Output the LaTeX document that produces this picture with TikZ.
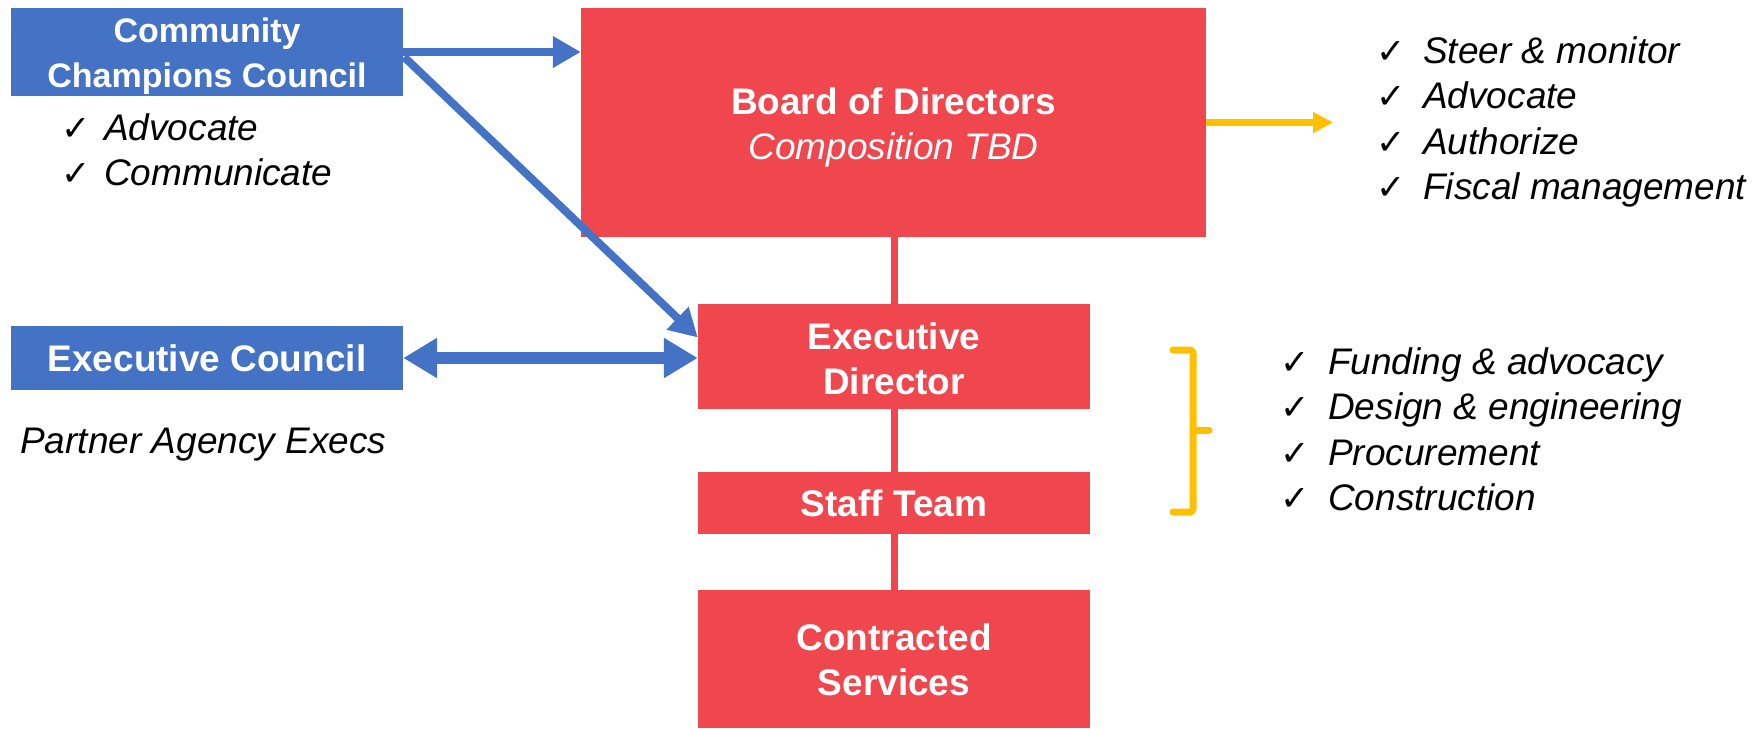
\documentclass[tikz,border=0pt]{standalone}
\usepackage{fontspec}
\setmainfont{Liberation Sans}
\newfontfamily\symfont{DejaVu Sans}
\usetikzlibrary{arrows.meta,calc}
\definecolor{cblue}{HTML}{4472C4}
\definecolor{cred}{HTML}{F0464E}
\definecolor{cyel}{HTML}{FFC000}
\begin{document}
\begin{tikzpicture}[x=1pt,y=-1pt,
  bluebox/.style={fill=cblue, text=white, font=\fontsize{37}{45}\selectfont\bfseries, align=center, inner sep=0pt},
  redbox/.style={fill=cred, text=white, font=\fontsize{37}{45}\selectfont\bfseries, align=center, inner sep=0pt, minimum width=392pt},
  boxtext/.style={text=white, font=\fontsize{37}{45}\selectfont\bfseries, align=center, inner sep=0pt},
  item/.style={anchor=base west, inner sep=0pt, font=\fontsize{37}{45}\selectfont\itshape},
  tick/.style={anchor=base west, inner sep=0pt, font=\symfont\fontsize{35}{35}\selectfont},
  barrow/.style={draw=cblue, line width=8pt, -{Triangle[length=28pt,width=30pt]}},
  darrow/.style={draw=cblue, line width=12pt, {Triangle[length=34pt,width=38pt]}-{Triangle[length=34pt,width=38pt]}},
  yarrow/.style={draw=cyel, line width=7pt, -{Triangle[length=20pt,width=20pt]}},
  rline/.style={draw=cred, line width=7pt},
  brace/.style={draw=cyel, line width=7pt, line cap=round, line join=round, rounded corners=3pt},
]
\useasboundingbox (0,0) rectangle (1758,728);

% boxes
\node[bluebox, minimum width=392pt, minimum height=88pt] (cc) at (207,52) {};
\node[boxtext, font=\fontsize{34}{45}\selectfont\bfseries] (cct) at (207,56) {Community\\Champions Council};
\node[bluebox, minimum width=392pt, minimum height=64pt] (ec) at (207,358) {Executive Council};
\node[redbox, minimum width=625pt, minimum height=229pt] (bod) at (893.5,122.5) {};
\node[boxtext] (bodt) at (893.5,127.5) {Board of Directors\\{\mdseries\itshape Composition TBD}};
\node[redbox, minimum height=105pt] (ed) at (894,356.5) {};
\node[boxtext] (edt) at (894,359) {Executive\\Director};
\node[redbox, minimum height=62pt] (st) at (894,503) {Staff Team};
\node[redbox, minimum height=138pt] (cs) at (894,659) {};
\node[boxtext] (cst) at (894,660) {Contracted\\Services};

% red connectors
\draw[rline] (ed.north) -- (ed.north |- bod.south);
\draw[rline] (ed.south) -- (st.north);
\draw[rline] (st.south) -- (cs.north);

% blue arrows
\draw[barrow] (cc.east) -- (cc.east -| bod.west);
\draw[barrow] ($(cc.east)+(1,5)$) -- ($(ed.west)+(0,-19)$);
\draw[darrow] (ec.east) -- (ec.east -| ed.west);

% yellow arrow
\coordinate (yend) at (1333,122.5);
\draw[yarrow] (bod.east) -- (yend);

% yellow bracket
\coordinate (b1) at (1173,350);
\coordinate (b2) at (1193,350);
\coordinate (b3) at (1193,512);
\coordinate (b4) at (1173,512);
\coordinate (b5) at (1193,430);
\coordinate (b6) at (1209,430);
\draw[brace] (b1) -- (b2) -- (b3) -- (b4);
\draw[brace] (b5) -- (b6);

% left list
\node[tick] (t1) at (61,140) {✓};
\node[item] (l1) at (104,140) {Advocate};
\node[tick] (t2) at (61,185) {✓};
\node[item] (l2) at (104,185) {Communicate};

\node[item] (pae) at (20,453) {Partner Agency Execs};

% board list
\node[tick] (r1t) at (1376,63) {✓};
\node[item] (r1) at (1423,63) {Steer \& monitor};
\node[tick] (r2t) at (1376,108) {✓};
\node[item] (r2) at (1423,108) {Advocate};
\node[tick] (r3t) at (1376,154) {✓};
\node[item] (r3) at (1423,154) {Authorize};
\node[tick] (r4t) at (1376,199) {✓};
\node[item] (r4) at (1423,199) {Fiscal management};

% staff list
\node[tick] (s1t) at (1280,374) {✓};
\node[item] (s1) at (1328,374) {Funding \& advocacy};
\node[tick] (s2t) at (1280,419) {✓};
\node[item] (s2) at (1328,419) {Design \& engineering};
\node[tick] (s3t) at (1280,465) {✓};
\node[item] (s3) at (1328,465) {Procurement};
\node[tick] (s4t) at (1280,510) {✓};
\node[item] (s4) at (1328,510) {Construction};
\end{tikzpicture}
\end{document}
